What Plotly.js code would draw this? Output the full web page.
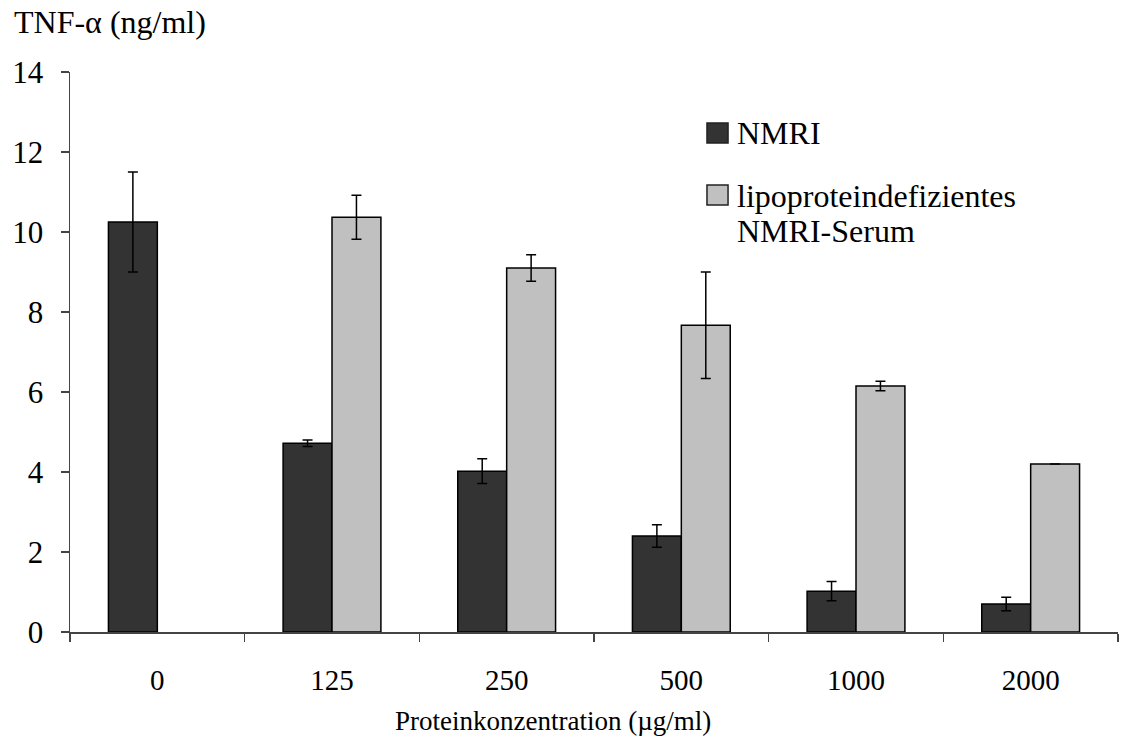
<!DOCTYPE html>
<html>
<head>
<meta charset="utf-8">
<script src="https://cdn.plot.ly/plotly-3.0.1.min.js"></script>
<style>html,body{margin:0;padding:0;background:#fff;}#chart{width:1122px;height:738px;}</style>
</head>
<body>
<div id="chart"></div>
<script>
const categories = ["0", "125", "250", "500", "1000", "2000"];
const nmriValues = [10.25, 4.72, 4.02, 2.4, 1.02, 0.7];
const nmriErrors = [1.25, 0.08, 0.31, 0.28, 0.24, 0.17];
const lipoValues = [null, 10.37, 9.1, 7.67, 6.15, 4.2];
const lipoErrors = [null, 0.55, 0.33, 1.33, 0.12, 0];
const seriesNames = ["NMRI", "lipoproteindefizientes<br>NMRI-Serum"];
const seriesColors = ["#333333", "#c0c0c0"];
const yTitle = "TNF-α (ng/ml)";
const xTitle = "Proteinkonzentration (µg/ml)";

const FONT = "'Liberation Serif', 'Times New Roman', serif";

const traces = [
  {
    type: "bar", name: seriesNames[0], x: categories, y: nmriValues, showlegend: false,
    marker: {color: seriesColors[0], line: {color: "#000000", width: 1.5}},
    error_y: {type: "data", array: nmriErrors, visible: true, color: "#000000", thickness: 1.5, width: 5}
  },
  {
    type: "bar", name: seriesNames[1], x: categories, y: lipoValues, showlegend: false,
    marker: {color: seriesColors[1], line: {color: "#000000", width: 1.5}},
    error_y: {type: "data", array: lipoErrors, visible: true, color: "#000000", thickness: 1.5, width: 5}
  }
];

// manual legend (style/position only)
const legendSquares = [
  {y0: 0.8732, y1: 0.9089},
  {y0: 0.7625, y1: 0.7982}
];
const legendTextY = [[0.8911], [0.7786, 0.7161]];
const shapes = [];
const annotations = [];
seriesNames.forEach((name, i) => {
  shapes.push({type: "rect", xref: "paper", yref: "paper", x0: 0.6078, x1: 0.6279,
    y0: legendSquares[i].y0, y1: legendSquares[i].y1,
    fillcolor: seriesColors[i], line: {color: "#222222", width: 1.5}});
  name.split("<br>").forEach((line, j) => {
    annotations.push({text: line, xref: "paper", yref: "paper", x: 0.6345, y: legendTextY[i][j],
      xanchor: "left", yanchor: "middle", showarrow: false, font: {family: FONT, size: 32, color: "#000"}});
  });
});
annotations.push({text: yTitle, xref: "paper", yref: "paper", x: -0.0553, y: 1.089,
  xanchor: "left", yanchor: "middle", showarrow: false, font: {family: FONT, size: 32, color: "#000"}});
annotations.push({text: xTitle, xref: "paper", yref: "paper", x: 0.4609, y: -0.159,
  xanchor: "center", yanchor: "middle", showarrow: false, font: {family: FONT, size: 27, color: "#000"}});

const layout = {
  width: 1122, height: 738,
  margin: {l: 70, r: 4, t: 72, b: 106},
  paper_bgcolor: "#ffffff", plot_bgcolor: "#ffffff",
  font: {family: FONT, size: 26, color: "#000000"},
  barmode: "group", bargap: 0.44, bargroupgap: 0,
  showlegend: false,
  shapes: shapes,
  annotations: annotations,
  xaxis: {
    type: "category", showline: true, linecolor: "#444444", linewidth: 1.5,
    ticks: "outside", tickson: "boundaries", ticklen: 8, tickcolor: "#444444", tickwidth: 1.5,
    showgrid: false, zeroline: false, ticklabelstandoff: 22,
    tickfont: {family: FONT, size: 29, color: "#000"}
  },
  yaxis: {
    range: [0, 14], dtick: 2, showline: true, linecolor: "#444444", linewidth: 1.5,
    ticks: "outside", ticklen: 8, tickcolor: "#444444", tickwidth: 1.5,
    showgrid: false, zeroline: false, ticklabelstandoff: 11,
    tickfont: {family: FONT, size: 31, color: "#000"}
  }
};

Plotly.newPlot("chart", traces, layout, {displayModeBar: false, staticPlot: true});
</script>
</body>
</html>
